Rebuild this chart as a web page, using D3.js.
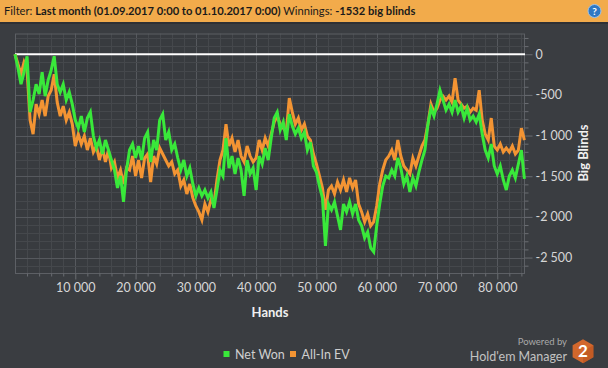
<!DOCTYPE html>
<html><head><meta charset="utf-8">
<script src="https://cdn.jsdelivr.net/npm/d3@7"></script>
<style>html,body{margin:0;padding:0;background:#3a3d41;}svg{display:block;}</style>
</head><body>
<svg id="c" width="608" height="368"></svg>
<script>
// ---- data ----
const handStep = 500;
const netWon = [
0,-172,-368,-221,-25,-712,-564,-368,-491,-221,
-515,-319,-196,-25,-368,-466,-368,-564,-466,-614,
-810,-908,-761,-957,-785,-712,-1006,-1153,-1055,-1227,
-1055,-1178,-1301,-1423,-1644,-1497,-1816,-1423,-1178,-1104,
-1276,-1129,-1301,-1031,-957,-1325,-1055,-1178,-810,-736,
-1055,-957,-1178,-1104,-1276,-1423,-1301,-1497,-1399,-1595,
-1742,-1644,-1742,-1669,-1767,-1693,-1890,-1669,-1423,-1497,
-1031,-1399,-1252,-1472,-1276,-1423,-1742,-1301,-1472,-1399,
-1669,-1252,-1350,-1153,-1301,-1031,-785,-712,-933,-834,
-1055,-736,-883,-982,-908,-1031,-957,-1178,-1080,-1374,
-1448,-1620,-1767,-2356,-1841,-1914,-1816,-1988,-2160,-1841,
-1939,-1816,-1963,-1841,-2037,-2110,-2258,-2184,-2380,-2429,
-2110,-1841,-1620,-1497,-1521,-1423,-1497,-1276,-1399,-1595,
-1497,-1693,-1521,-1620,-1448,-1301,-1178,-859,-663,-761,
-614,-442,-564,-687,-614,-712,-564,-712,-638,-785,
-663,-810,-761,-834,-736,-982,-1178,-1276,-1104,-1374,
-1472,-1374,-1546,-1669,-1497,-1423,-1521,-1350,-1178,-1532
];
const allInEV = [
0,-123,-245,-98,-196,-810,-982,-614,-736,-564,
-761,-515,-442,-245,-589,-761,-638,-810,-712,-859,
-1129,-982,-1104,-1006,-1178,-1031,-1202,-1129,-1301,-1153,
-1325,-1178,-1399,-1325,-1521,-1423,-1595,-1399,-1423,-1252,
-1497,-1301,-1521,-1276,-1227,-1571,-1252,-1350,-1153,-1227,
-1301,-1374,-1325,-1472,-1423,-1620,-1546,-1718,-1595,-1767,
-1865,-1939,-2037,-1841,-1939,-1791,-1841,-1546,-1301,-1178,
-859,-1129,-1031,-1202,-1055,-1252,-1325,-1129,-1252,-1325,
-1276,-1055,-1178,-1031,-1129,-982,-834,-761,-859,-908,
-957,-540,-712,-859,-785,-933,-859,-1006,-1055,-1227,
-1350,-1497,-1644,-1914,-1669,-1620,-1718,-1571,-1669,-1546,
-1693,-1521,-1644,-1546,-1841,-1939,-2061,-1963,-2110,-2061,
-1865,-1595,-1423,-1301,-1252,-1178,-1301,-1055,-1252,-1374,
-1423,-1472,-1276,-1374,-1252,-1129,-1055,-859,-614,-712,
-663,-564,-515,-564,-515,-589,-294,-564,-614,-663,
-638,-712,-663,-687,-442,-810,-982,-1055,-785,-1129,
-1178,-1104,-1202,-1153,-1202,-1129,-1227,-1178,-908,-1055
];
const hands = netWon.map((_, i) => i * handStep);
const xTicks = [10000, 20000, 30000, 40000, 50000, 60000, 70000, 80000];
const yTicks = [0, -500, -1000, -1500, -2000, -2500];
const seriesNames = ["Net Won", "All-In EV"];
const seriesColors = ["#39e83a", "#f39433"];

// ---- drawing ----
const svg = d3.select("#c");
const W = 608, H = 368;
const L = 15, R = 525, T = 33.5, B = 273;
const FONT = "Lato, 'Open Sans', sans-serif";

svg.append("rect").attr("width", W).attr("height", H).attr("fill", "#3a3d41");

const x = d3.scaleLinear().domain([0, 84600]).range([L, R]);
const y = d3.scaleLinear().domain([-2690, 255]).range([B, T]);

svg.append("rect").attr("x", L).attr("y", T).attr("width", R - L).attr("height", B - T).attr("fill", "#383b3f");

const grid = svg.append("g");
d3.range(2000, 84600, 2000).forEach(v => {
  grid.append("line").attr("x1", Math.round(x(v)) + 0.5).attr("x2", Math.round(x(v)) + 0.5)
    .attr("y1", T).attr("y2", B).attr("stroke", v % 10000 === 0 ? "#56595e" : "#45484c").attr("stroke-width", 1);
});
d3.range(200, -2700, -100).forEach(v => {
  if (v === 0) return;
  grid.append("line").attr("y1", Math.round(y(v)) + 0.5).attr("y2", Math.round(y(v)) + 0.5)
    .attr("x1", L).attr("x2", R).attr("stroke", v % 500 === 0 ? "#56595e" : "#45484c").attr("stroke-width", 1);
});
svg.append("rect").attr("x", L + 0.5).attr("y", T + 0.5).attr("width", R - L - 1).attr("height", B - T)
  .attr("fill", "none").attr("stroke", "#5d6065");

// bottom axis
const xAxis = d3.axisBottom(x).tickValues(xTicks)
  .tickFormat(d => d3.format(",")(d).replace(/,/g, " ")).tickSize(6).tickPadding(4);
const gx = svg.append("g").attr("transform", `translate(0,${B + 0.5})`).call(xAxis);
gx.select(".domain").remove();
gx.selectAll(".tick line").attr("stroke", "#6a6d72");
gx.selectAll("text").attr("fill", "#d6d6d6").attr("font-size", 12.5).attr("font-family", FONT);
const xMinor = d3.axisBottom(x).tickValues(d3.range(2000, 84600, 2000).filter(v => v % 10000)).tickSize(3).tickFormat("");
const gxm = svg.append("g").attr("transform", `translate(0,${B + 0.5})`).call(xMinor);
gxm.select(".domain").remove();
gxm.selectAll(".tick line").attr("stroke", "#6a6d72");

// right axis
const yAxis = d3.axisRight(y).tickValues(yTicks)
  .tickFormat(d => d3.format(",")(d).replace(/,/g, " ").replace("−", "-")).tickSize(8).tickPadding(3);
const gy = svg.append("g").attr("transform", `translate(${R - 0.5},0)`).call(yAxis);
gy.select(".domain").remove();
gy.selectAll(".tick line").attr("stroke", "#6a6d72");
gy.selectAll("text").attr("fill", "#d6d6d6").attr("font-size", 12.5).attr("font-family", FONT);
const yMinor = d3.axisRight(y).tickValues(d3.range(200, -2700, -100).filter(v => v % 500)).tickSize(4).tickFormat("");
const gym = svg.append("g").attr("transform", `translate(${R - 0.5},0)`).call(yMinor);
gym.select(".domain").remove();
gym.selectAll(".tick line").attr("stroke", "#6a6d72");

// zero line
svg.append("line").attr("x1", L).attr("x2", R).attr("y1", y(0)).attr("y2", y(0))
  .attr("stroke", "#ffffff").attr("stroke-width", 2);

// series
const line = d3.line().x((d, i) => x(hands[i])).y(d => y(d));
svg.append("path").datum(allInEV).attr("d", line).attr("fill", "none")
  .attr("stroke", seriesColors[1]).attr("stroke-width", 3).attr("stroke-linejoin", "miter");
svg.append("path").datum(netWon).attr("d", line).attr("fill", "none")
  .attr("stroke", seriesColors[0]).attr("stroke-width", 3).attr("stroke-linejoin", "miter");

// axis titles
svg.append("text").attr("x", 270).attr("y", 317).attr("text-anchor", "middle")
  .attr("fill", "#f0f0f0").attr("font-weight", "bold").attr("font-size", 13).attr("font-family", FONT).text("Hands");
svg.append("text").attr("transform", "translate(587.5,153) rotate(-90)").attr("text-anchor", "middle")
  .attr("fill", "#f0f0f0").attr("font-weight", "bold").attr("font-size", 13).attr("font-family", FONT).text("Big Blinds");

// header
svg.append("rect").attr("x", 0).attr("y", 0).attr("width", W).attr("height", 22).attr("fill", "#f2ab4b");
svg.append("rect").attr("x", 0).attr("y", 22).attr("width", W).attr("height", 2).attr("fill", "#2e3034");
const ht = svg.append("text").attr("x", 4).attr("y", 15).attr("font-size", 11.2).attr("font-family", FONT).attr("fill", "#1a1a1a");
ht.append("tspan").text("Filter: ");
ht.append("tspan").attr("font-weight", "bold").text("Last month (01.09.2017 0:00 to 01.10.2017 0:00)");
ht.append("tspan").text(" Winnings: ");
ht.append("tspan").attr("font-weight", "bold").text("-1532 big blinds");
svg.append("circle").attr("cx", 594.5).attr("cy", 11).attr("r", 6.5).attr("fill", "#2f78c4").attr("stroke", "#9cc3ea").attr("stroke-width", 1);
svg.append("text").attr("x", 594.5).attr("y", 15).attr("text-anchor", "middle").attr("font-size", 10).attr("font-weight", "bold")
  .attr("font-family", FONT).attr("fill", "#fff").text("?");

// legend
const leg = svg.append("g");
const legX = [223.5, 290];
seriesNames.forEach((n, i) => {
  leg.append("rect").attr("x", legX[i]).attr("y", 351).attr("width", 6).attr("height", 6).attr("fill", seriesColors[i]);
  leg.append("text").attr("x", legX[i] + 11.5).attr("y", 358.5).attr("font-size", 12.5).attr("font-family", FONT)
    .attr("fill", "#cfcfcf").text(n);
});

// branding
svg.append("text").attr("x", 567).attr("y", 345).attr("text-anchor", "end").attr("font-size", 9.5)
  .attr("font-family", FONT).attr("fill", "#a9a9a9").text("Powered by");
svg.append("text").attr("x", 567).attr("y", 360.5).attr("text-anchor", "end").attr("font-size", 12.5)
  .attr("font-family", FONT).attr("fill", "#c2c2c2").text("Hold'em Manager");
const hx = 583, hy = 351.3, hr = 12;
const hex = d3.range(6).map(k => { const a = Math.PI / 3 * k - Math.PI / 2; return [hx + hr * Math.cos(a), hy + hr * Math.sin(a)]; });
svg.append("polygon").attr("points", hex.map(p => p.join(",")).join(" ")).attr("fill", "#d2672c");
svg.append("polygon").attr("points", [hex[1], hex[2], hex[3], [hx, hy]].map(p => p.join(",")).join(" ")).attr("fill", "#b9541f").attr("opacity", 0.6);
svg.append("text").attr("x", hx).attr("y", hy + 6).attr("text-anchor", "middle").attr("font-size", 17).attr("font-weight", "bold")
  .attr("font-family", FONT).attr("fill", "#ffffff").text("2");
</script>
</body></html>
